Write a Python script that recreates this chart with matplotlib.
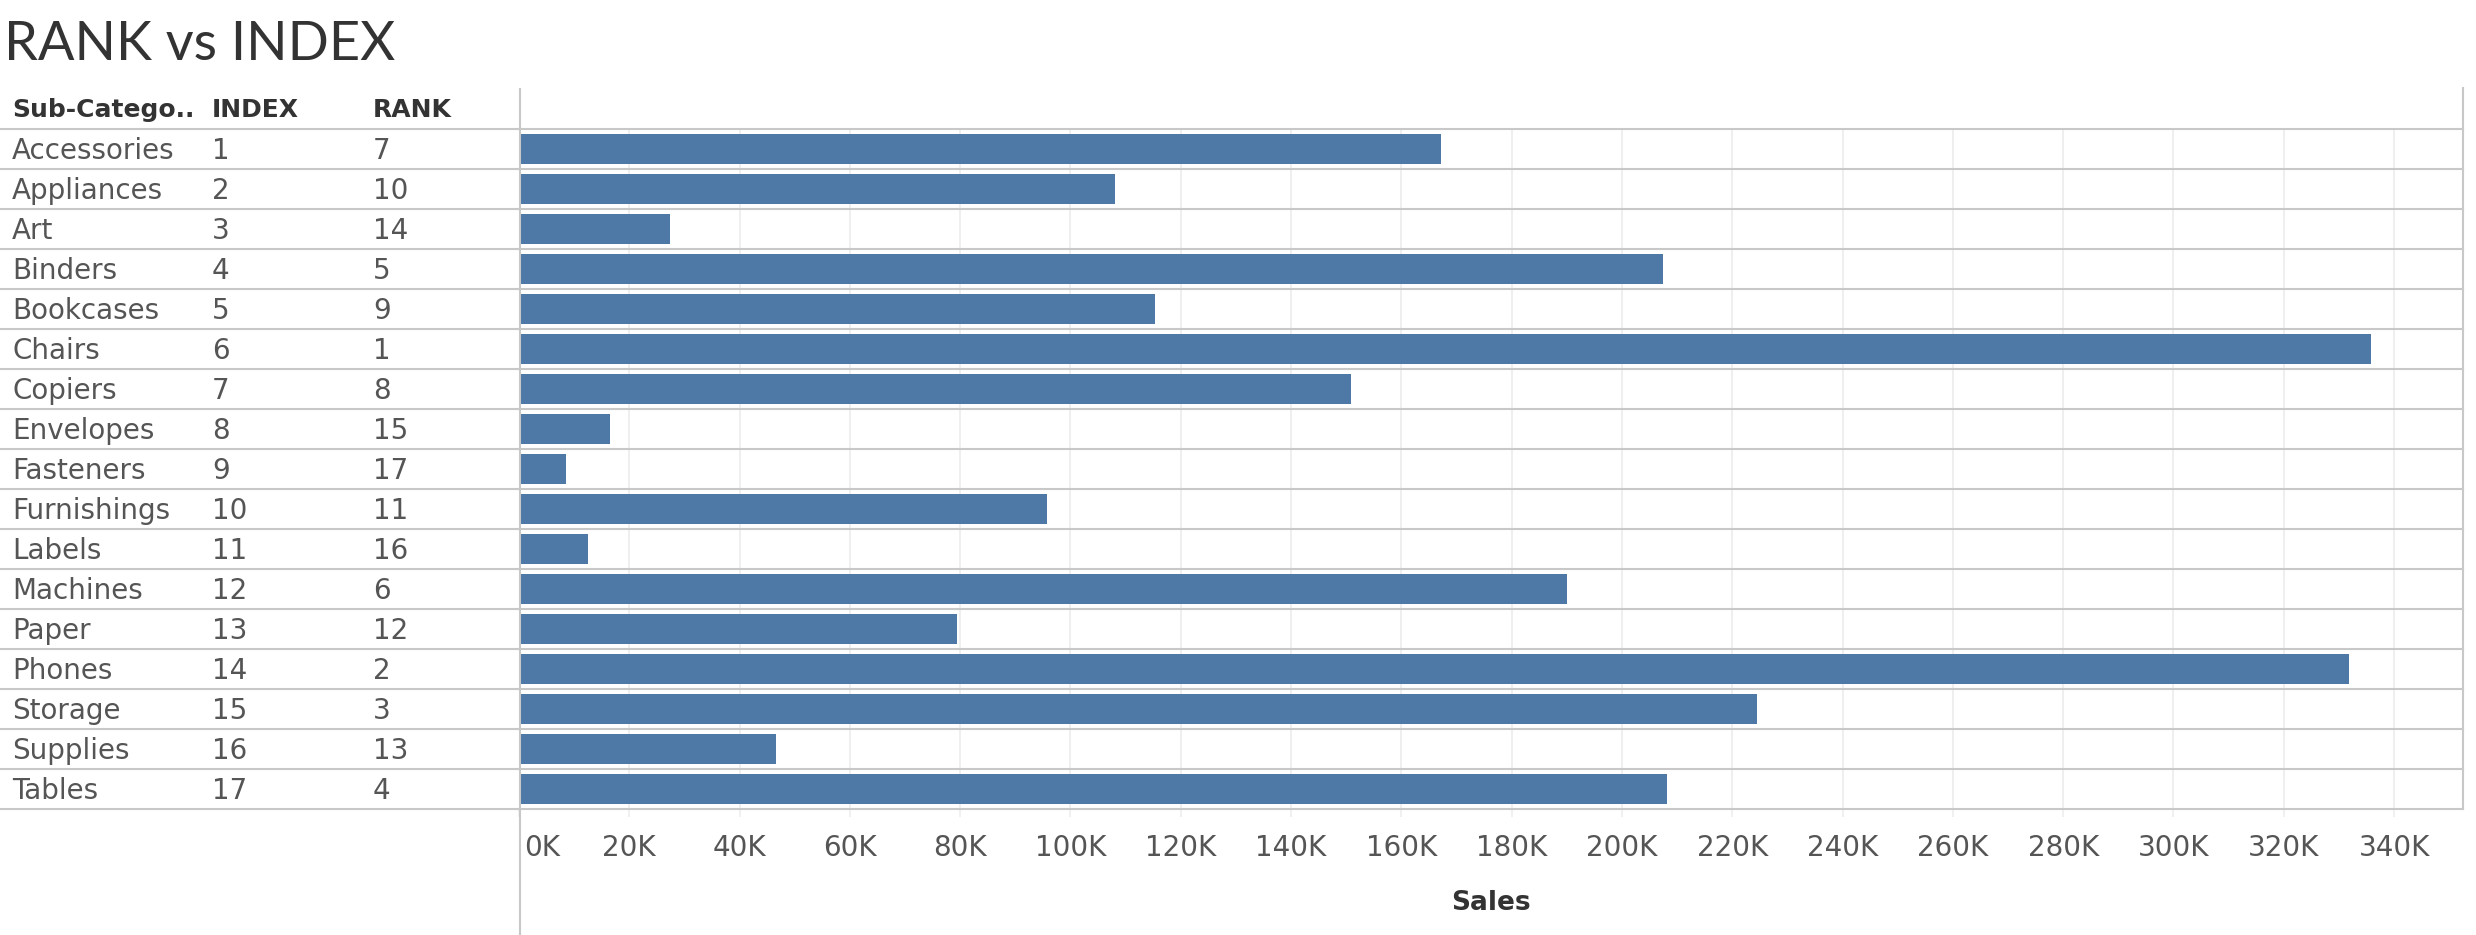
import matplotlib.pyplot as plt
from matplotlib.lines import Line2D
from matplotlib.transforms import ScaledTranslation

# Data
sub_categories = ["Accessories", "Appliances", "Art", "Binders", "Bookcases", "Chairs",
                  "Copiers", "Envelopes", "Fasteners", "Furnishings", "Labels", "Machines",
                  "Paper", "Phones", "Storage", "Supplies", "Tables"]
index_vals = [1, 2, 3, 4, 5, 6, 7, 8, 9, 10, 11, 12, 13, 14, 15, 16, 17]
rank_vals = [7, 10, 14, 5, 9, 1, 8, 15, 17, 11, 16, 6, 12, 2, 3, 13, 4]
sales = [167200, 108100, 27400, 207400, 115300, 335800, 150900, 16500, 8500,
         95700, 12500, 190000, 79400, 331800, 224500, 46600, 208200]
x_ticks = list(range(0, 340001, 20000))

W, H = 2476, 935
BAR_COLOR = "#4e79a7"
LINE_COLOR = "#c8c8c8"
GRID_COLOR = "#ececec"
TEXT_COLOR = "#555555"
HEAD_COLOR = "#333333"

fig = plt.figure(figsize=(W / 100, H / 100), dpi=100)

# pixel layout of the table
top_rows, bottom_rows = 129, 809
pane_left, pane_right = 519, 2463
n = len(sub_categories)

ax = fig.add_axes([pane_left / W, 1 - bottom_rows / H,
                   (pane_right - pane_left) / W, (bottom_rows - top_rows) / H])
ax_tab = fig.add_axes([0, 1 - bottom_rows / H, pane_left / W, (bottom_rows - top_rows) / H])

# bars
ax.barh(range(n), sales, height=0.75, color=BAR_COLOR, zorder=3)
ax.set_ylim(n - 0.5, -0.5)
ax.set_xlim(0, 352500)
ax.set_yticks([])
ax.set_xticks(x_ticks)
ax.set_xticklabels([f"{v // 1000}K" for v in x_ticks])
ax.tick_params(axis="x", colors=GRID_COLOR, length=6, width=1.1, pad=12,
               labelsize=20, labelcolor=TEXT_COLOR)
first = ax.get_xticklabels()[0]
first.set_ha("left")
first.set_transform(first.get_transform() + ScaledTranslation(0.05, 0, fig.dpi_scale_trans))
ax.grid(axis="x", color=GRID_COLOR, linewidth=1.2, zorder=0)
ax.set_axisbelow(True)
for s in ax.spines.values():
    s.set_visible(False)
ax.set_xlabel("Sales", fontsize=19, fontweight="bold", color=HEAD_COLOR)
ax.xaxis.set_label_coords(0.5, -(910 - bottom_rows) / (bottom_rows - top_rows))
ax.xaxis.label.set_va("baseline")

# row separators
for k in range(n + 1):
    for a in (ax, ax_tab):
        a.axhline(k - 0.5, color=LINE_COLOR, linewidth=1.5, zorder=4, clip_on=False)

# left table
ax_tab.set_xlim(0, pane_left)
ax_tab.set_ylim(n - 0.5, -0.5)
ax_tab.axis("off")
cols_x = [12, 212, 373]
for i in range(n):
    for x, val in zip(cols_x, [sub_categories[i], index_vals[i], rank_vals[i]]):
        ax_tab.text(x, i + 0.26, str(val), fontsize=20, color=TEXT_COLOR,
                    va="baseline", ha="left")
for x, head in zip(cols_x, ["Sub-Catego..", "INDEX", "RANK"]):
    ax_tab.text(x, -0.8, head, fontsize=18, fontweight="bold", color=HEAD_COLOR,
                va="baseline", ha="left", clip_on=False)

# pane borders
fig.add_artist(Line2D([520 / W, 520 / W], [1 - 89 / H, 0], color=LINE_COLOR, linewidth=1.5))
fig.add_artist(Line2D([pane_right / W, pane_right / W], [1 - 88 / H, 1 - bottom_rows / H],
                      color=LINE_COLOR, linewidth=1.5))

# title
fig.text(4 / W, 1 - 60 / H, "RANK vs INDEX", fontsize=39, fontweight="normal",
         family=["Lato", "DejaVu Sans"], color="#333333", va="baseline", ha="left")

fig.savefig("out.png", dpi=100, facecolor="white")
